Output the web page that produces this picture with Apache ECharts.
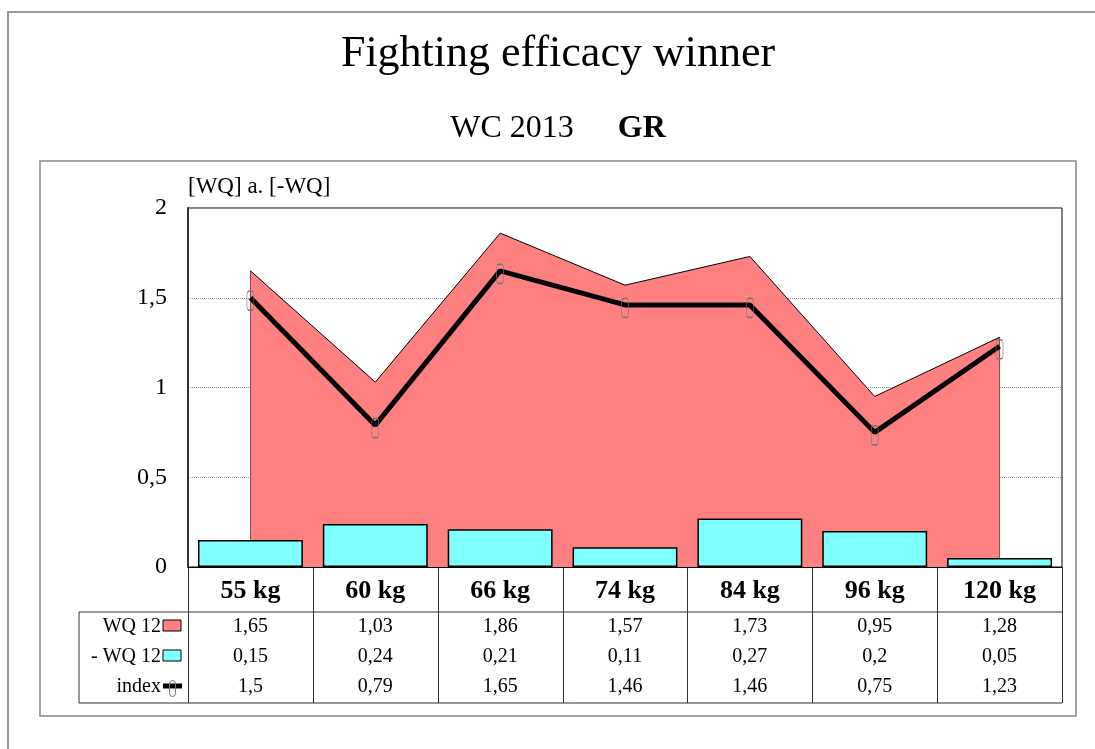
<!DOCTYPE html>
<html lang="en">
<head>
    <meta charset="UTF-8">
    <title>Fighting efficacy winner</title>
    <script src="https://cdn.jsdelivr.net/npm/echarts@6/dist/echarts.min.js"></script>
    <style>
        html, body { margin: 0; padding: 0; background: #fff; }
    </style>
</head>
<body>
    <div id="chart" style="width: 1095px; height: 749px;"></div>
    <script type="text/javascript">
        // Data
        const categories = ['55 kg', '60 kg', '66 kg', '74 kg', '84 kg', '96 kg', '120 kg'];
        const wq12 = [1.65, 1.03, 1.86, 1.57, 1.73, 0.95, 1.28];
        const minusWq12 = [0.15, 0.24, 0.21, 0.11, 0.27, 0.2, 0.05];
        const indexValues = [1.5, 0.79, 1.65, 1.46, 1.46, 0.75, 1.23];
        const rowNames = ['WQ 12', '- WQ 12', 'index'];
        const yTicks = [0, 0.5, 1, 1.5, 2];

        const FONT = '"Liberation Serif", "Times New Roman", serif';
        const fmt = v => String(v).replace('.', ',');
        const last = categories.length - 1;

        const chart = echarts.init(document.getElementById('chart'));

        chart.setOption({
            animation: false,
            grid: {
                left: 188, right: 33, top: 208, bottom: 182,
                show: true, borderColor: '#000', borderWidth: 1, backgroundColor: 'transparent'
            },
            xAxis: {
                type: 'category',
                data: categories,
                axisLine: { lineStyle: { color: '#000', width: 1 } },
                axisTick: { show: false },
                axisLabel: {
                    margin: 11,
                    fontFamily: FONT, fontSize: 26, fontWeight: 'bold', color: '#000'
                }
            },
            yAxis: {
                type: 'value',
                min: yTicks[0], max: yTicks[yTicks.length - 1], interval: 0.5,
                name: '[WQ] a. [-WQ]',
                nameLocation: 'end',
                nameGap: 21,
                nameTextStyle: { fontFamily: FONT, fontSize: 23, color: '#000', align: 'left', verticalAlign: 'middle' },
                axisLine: { show: true, lineStyle: { color: '#333', width: 2 } },
                axisTick: { show: false },
                axisLabel: {
                    margin: 21,
                    fontFamily: FONT, fontSize: 24, color: '#000',
                    formatter: v => fmt(v)
                },
                splitLine: { lineStyle: { color: '#999', type: 'dotted', width: 1 } }
            },
            series: [
                {
                    name: 'WQ 12',
                    type: 'line',
                    data: wq12,
                    symbol: 'none',
                    lineStyle: { color: '#000', width: 1 },
                    areaStyle: { color: '#FF8080', opacity: 1 },
                    itemStyle: { color: '#FF8080' },
                    emphasis: { disabled: true },
                    z: 2,
                    markLine: {
                        silent: true,
                        z: 2,
                        symbol: 'none',
                        label: { show: false },
                        lineStyle: { color: '#000', width: 1, type: 'solid' },
                        data: [
                            [{ coord: [categories[0], 0] }, { coord: [categories[0], wq12[0]] }],
                            [{ coord: [categories[last], 0] }, { coord: [categories[last], wq12[last]] }]
                        ]
                    }
                },
                {
                    name: '- WQ 12',
                    type: 'bar',
                    data: minusWq12,
                    barWidth: '84%',
                    itemStyle: { color: '#80FFFF', borderColor: '#000', borderWidth: 1.5 },
                    emphasis: { disabled: true },
                    z: 3
                },
                {
                    name: 'index',
                    type: 'line',
                    data: indexValues,
                    symbol: 'roundRect',
                    symbolSize: [7, 19],
                    symbolOffset: [0, 3],
                    showSymbol: true,
                    lineStyle: { color: '#000', width: 5 },
                    itemStyle: { color: 'rgba(0,0,0,0)', borderColor: '#777', borderWidth: 1 },
                    emphasis: { disabled: true },
                    z: 4
                }
            ]
        });

        // Titles, data table and frames, placed from the axis scale
        function buildTable() {
            const centers = categories.map((c, i) => chart.convertToPixel({ xAxisIndex: 0 }, i));
            const band = centers[1] - centers[0];
            const x0 = centers[0] - band / 2;
            const x1 = centers[last] + band / 2;
            const yTop = chart.convertToPixel({ yAxisIndex: 0 }, 0);
            const yHead = 612, yBot = 703, xLeft = 79;
            const rowY = [627, 657, 687];
            const lineStyle = { stroke: '#333', lineWidth: 1 };
            const els = [];

            // titles
            els.push({
                type: 'text', x: 558, y: 54, silent: true,
                style: { text: 'Fighting efficacy winner', fill: '#000', font: '44px ' + FONT, align: 'center', verticalAlign: 'middle' }
            });
            els.push({
                type: 'text', x: 558, y: 129, silent: true,
                style: {
                    text: '{a|WC 2013}{b|GR}', align: 'center', verticalAlign: 'middle',
                    rich: {
                        a: { fontFamily: FONT, fontSize: 32, fontWeight: 'normal', fill: '#000' },
                        b: { fontFamily: FONT, fontSize: 32, fontWeight: 'bold', fill: '#000', padding: [0, 0, 0, 44] }
                    }
                }
            });

            // outer frames
            els.push({ type: 'polyline', shape: { points: [[8, 760], [8, 12], [1100, 12]] }, style: { stroke: '#999', lineWidth: 2, fill: null }, silent: true });
            els.push({ type: 'rect', shape: { x: 40, y: 161, width: 1036, height: 555 }, style: { stroke: '#888', lineWidth: 1.5, fill: null }, silent: true });

            // table grid lines
            for (let i = 0; i <= categories.length; i++) {
                const x = Math.round(x0 + i * band) + 0.5;
                els.push({ type: 'line', shape: { x1: x, y1: yTop, x2: x, y2: yBot }, style: lineStyle, silent: true });
            }
            els.push({ type: 'line', shape: { x1: xLeft, y1: yHead, x2: x1, y2: yHead }, style: lineStyle, silent: true });
            els.push({ type: 'line', shape: { x1: xLeft, y1: yBot, x2: x1, y2: yBot }, style: lineStyle, silent: true });
            els.push({ type: 'line', shape: { x1: xLeft, y1: yHead, x2: xLeft, y2: yBot }, style: lineStyle, silent: true });

            // values
            const rows = [wq12, minusWq12, indexValues];
            rows.forEach((vals, r) => {
                vals.forEach((v, i) => {
                    els.push({
                        type: 'text', x: centers[i], y: rowY[r], silent: true,
                        style: { text: fmt(v), fill: '#000', font: '20px ' + FONT, align: 'center', verticalAlign: 'middle' }
                    });
                });
                els.push({
                    type: 'text', x: 161, y: rowY[r], silent: true,
                    style: { text: rowNames[r], fill: '#000', font: '20px ' + FONT, align: 'right', verticalAlign: 'middle' }
                });
            });

            // legend keys
            els.push({ type: 'rect', shape: { x: 163, y: 620, width: 18, height: 11 }, style: { fill: '#FF8080', stroke: '#000', lineWidth: 1 }, silent: true });
            els.push({ type: 'rect', shape: { x: 163, y: 650, width: 18, height: 11 }, style: { fill: '#80FFFF', stroke: '#000', lineWidth: 1 }, silent: true });
            els.push({ type: 'line', shape: { x1: 163, y1: 686, x2: 182, y2: 686 }, style: { stroke: '#000', lineWidth: 5 }, silent: true });
            els.push({ type: 'rect', shape: { x: 169.5, y: 680.5, width: 6, height: 16, r: 3 }, style: { fill: null, stroke: '#777', lineWidth: 1 }, silent: true });

            chart.setOption({ graphic: { elements: els } });
        }
        buildTable();
    </script>
</body>
</html>
